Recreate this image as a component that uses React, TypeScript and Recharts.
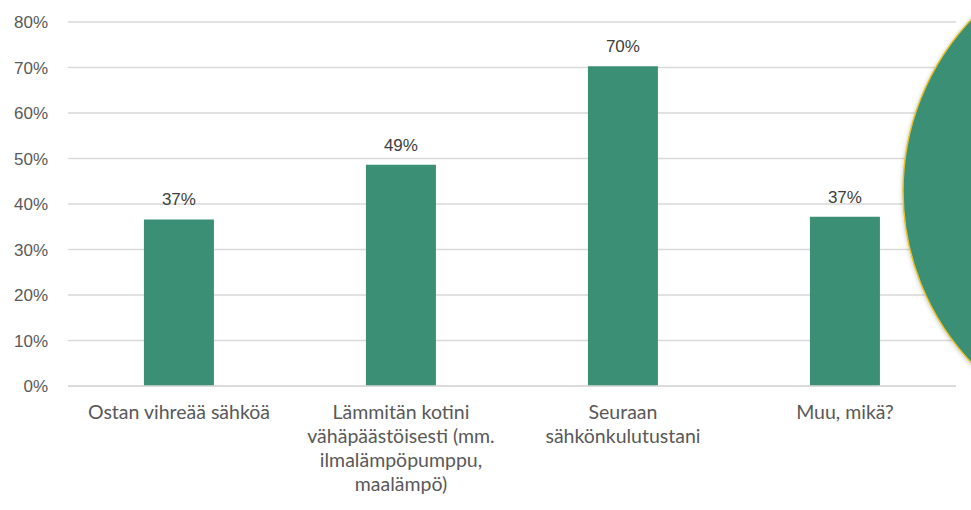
import React from 'react';
import { BarChart, Bar, XAxis, YAxis, CartesianGrid, LabelList, Customized } from 'recharts';

const categories = [
  'Ostan vihreää sähköä',
  'Lämmitän kotini\nvähäpäästöisesti (mm.\nilmalämpöpumppu,\nmaalämpö)',
  'Seuraan\nsähkönkulutustani',
  'Muu, mikä?',
];
const values = [0.366, 0.486, 0.703, 0.372];
const yTicks = [0, 0.1, 0.2, 0.3, 0.4, 0.5, 0.6, 0.7, 0.8];

const data = categories.map((c, i) => ({ name: c, value: values[i] }));

const BAR = '#3a8f75';
const TEXT = '#595959';

const CatTick = (props: any) => {
  const { x, y, payload } = props;
  const lines = String(payload.value).split('\n');
  return (
    <text x={x} y={y} textAnchor="middle" fill={TEXT} fontSize={19.5} fontFamily="Lato, 'Open Sans', sans-serif">
      {lines.map((l, i) => (
        <tspan key={i} x={x} dy={i === 0 ? '0.66em' : 24}>{l}</tspan>
      ))}
    </text>
  );
};

const Bubble = (props: any) => {
  const w = props.width ?? 971;
  return (
    <g>
      <defs>
        <filter id="sh" x="-20%" y="-20%" width="140%" height="140%">
          <feDropShadow dx="0" dy="1" stdDeviation="2" floodColor="#000" floodOpacity="0.25" />
        </filter>
      </defs>
      <circle cx={w + 182} cy={191} r={250} fill={BAR} stroke="#e9c12a" strokeWidth={1.5} filter="url(#sh)" />
    </g>
  );
};

export default function App() {
  return (
    <div style={{ position: 'fixed', left: 0, top: 0, width: 971, height: 510, background: '#fff' }}>
      <BarChart width={971} height={510} data={data} margin={{ top: 22, right: 15, bottom: 0, left: 0 }} barCategoryGap="34.2%">
        <CartesianGrid vertical={false} stroke="#d9d9d9" strokeWidth={1.3} />
        <XAxis
          dataKey="name"
          axisLine={{ stroke: '#d9d9d9', strokeWidth: 1.3 }}
          tickLine={false}
          interval={0}
          height={124}
          tickMargin={14}
          tick={<CatTick />}
        />
        <YAxis
          domain={[0, 0.8]}
          ticks={yTicks}
          width={68}
          axisLine={false}
          tickLine={false}
          tickMargin={14}
          tickFormatter={(v: number) => `${Math.round(v * 100)}%`}
          tick={{ fill: TEXT, fontSize: 17, fontFamily: "'Liberation Sans', Arial, sans-serif" }}
        />
        <Bar dataKey="value" fill={BAR} isAnimationActive={false}>
          <LabelList
            dataKey="value"
            position="top"
            offset={14}
            formatter={(v: any) => `${Math.round(Number(v) * 100)}%`}
            style={{ fill: '#404040', fontSize: 17, fontFamily: "'Liberation Sans', Arial, sans-serif" }}
          />
        </Bar>
        <Customized component={Bubble} />
      </BarChart>
    </div>
  );
}
